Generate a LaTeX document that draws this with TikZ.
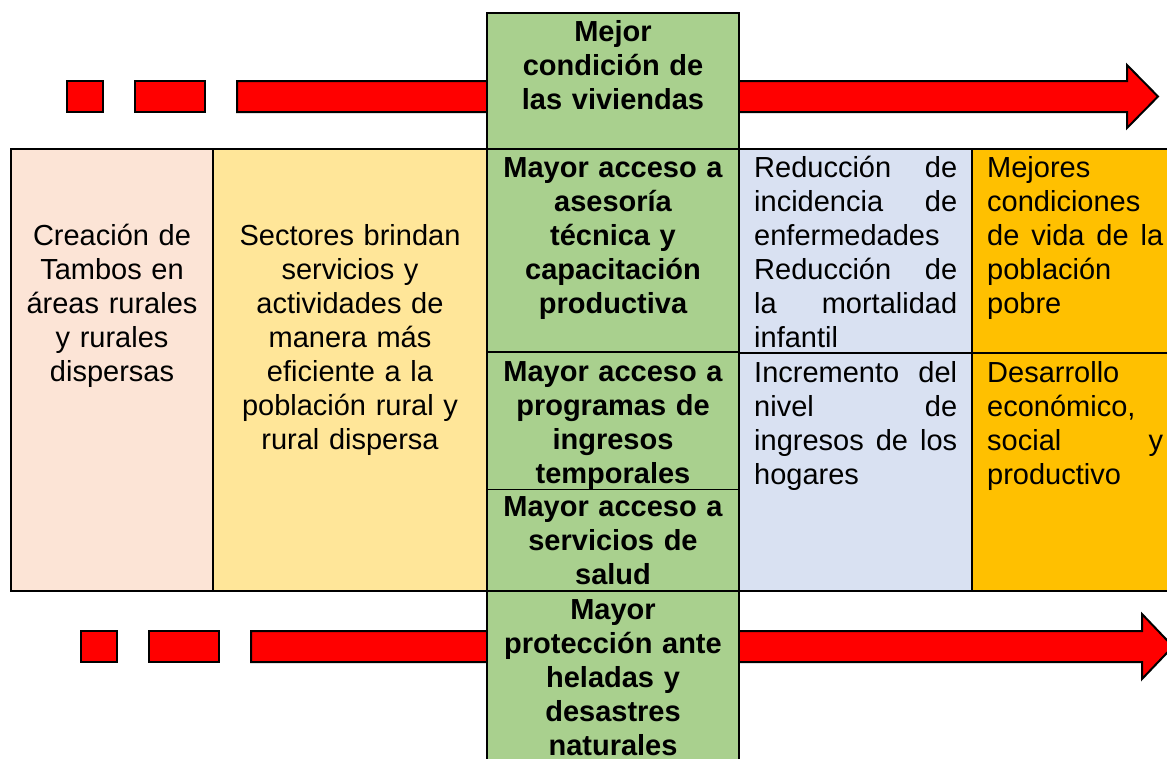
\documentclass[tikz,border=0pt]{standalone}
\usepackage{fontspec}
\setmainfont{Liberation Sans}
\definecolor{pinkcell}{HTML}{FCE4D6}
\definecolor{sandcell}{HTML}{FFE699}
\definecolor{greencell}{HTML}{A9D08E}
\definecolor{bluecell}{HTML}{D9E1F2}
\definecolor{orangecell}{HTML}{FFC000}

\begin{document}
\begin{tikzpicture}[x=1pt, y=-1pt,
  cell/.style={draw=black, line width=1.4pt},
  bar/.style={draw=black, fill=red, line width=2pt, line join=miter},
  txt/.style={anchor=base, align=center, inner sep=0pt, font=\fontsize{29}{34}\selectfont},
  btxt/.style={txt, font=\fontsize{29}{34}\selectfont\bfseries},
  jtxt/.style={anchor=base west, align=left, inner sep=0pt, font=\fontsize{29}{34}\selectfont}]
  \useasboundingbox (0,0) rectangle (1167,758);
  \clip (0,0) rectangle (1167,758);
  % upper arrow
  \draw [bar] (67,81) rectangle (103,112);
  \draw [bar] (135,81) rectangle (205,112);
  \draw [bar] (237,81) -- (1127,81) -- (1127,65) -- (1158,96.5) -- (1127,128) -- (1127,112) -- (237,112) -- cycle;
  % lower arrow
  \draw [bar] (81,631) rectangle (117,662);
  \draw [bar] (149,631) rectangle (219,662);
  \draw [bar] (251,631) -- (1142,631) -- (1142,614) -- (1173,646.5) -- (1142,679) -- (1142,662) -- (251,662) -- cycle;
  % table
  \draw [cell, fill=pinkcell] (11,149) rectangle (213,591);
  \draw [cell, fill=sandcell] (213,149) rectangle (487,591);
  \draw [cell, fill=bluecell] (739,149) rectangle (972,353);
  \draw [cell, fill=bluecell] (739,353) rectangle (972,591);
  \draw [cell, fill=orangecell] (972,149) rectangle (1180,353);
  \draw [cell, fill=orangecell] (972,353) rectangle (1180,591);
  % green column
  \draw [cell, fill=greencell] (487,13) rectangle (739,149);
  \draw [cell, fill=greencell] (487,149) rectangle (739,352);
  \draw [cell, fill=greencell] (487,352) rectangle (739,591);
  \draw [line width=0.8pt] (487,489) -- (739,489);
  \draw [cell, fill=greencell] (487,591) rectangle (739,780);
  % texts
  \node (tambos) [txt, text width=195] at (112,245) {Creación de\\Tambos en\\áreas rurales\\y rurales\\dispersas};
  \node (sectores) [txt, text width=260] at (350,245) {Sectores brindan\\servicios y\\actividades de\\manera más\\eficiente a la\\población rural y\\rural dispersa};
  \node (viviendas) [btxt, text width=245] at (613,41) {Mejor\\condición de\\las viviendas};
  \node (asesoria) [btxt, text width=245] at (613,177) {Mayor acceso a\\asesoría\\técnica y\\capacitación\\productiva};
  \node (ingresos) [btxt, text width=245] at (613,381) {Mayor acceso a\\programas de\\ingresos\\temporales};
  \node (salud) [btxt, text width=245] at (613,516) {Mayor acceso a\\servicios de\\salud};
  \node (heladas) [btxt, text width=245] at (613,619) {Mayor\\protección ante\\heladas y\\desastres\\naturales};
  \node (reduccion) [jtxt, text width=203] at (754,177) {Reducción\hfill de\\incidencia\hfill de\\enfermedades\\Reducción\hfill de\\la\hfill mortalidad\\infantil};
  \node (incremento) [jtxt, text width=203] at (754,382) {Incremento\hfill del\\nivel\hfill de\\ingresos\hfill de\hfill los\\hogares};
  \node (mejores) [jtxt, text width=176] at (987,177) {Mejores\\condiciones\\de\hfill vida\hfill de\hfill la\\población\\pobre};
  \node (desarrollo) [jtxt, text width=176] at (987,382) {Desarrollo\\económico,\\social\hfill y\\productivo};
\end{tikzpicture}
\end{document}
